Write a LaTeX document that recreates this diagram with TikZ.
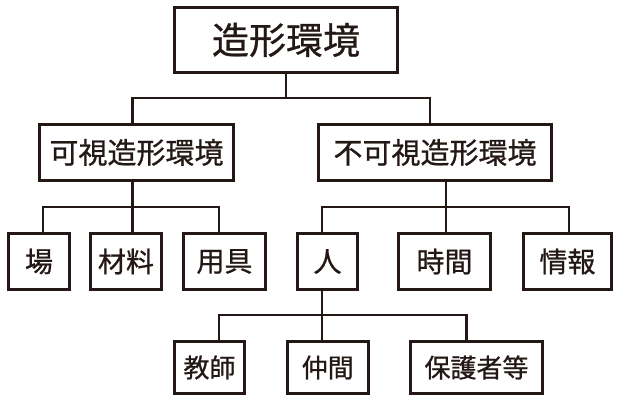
\documentclass[tikz,border=0pt]{standalone}
\usepackage{fontspec}
\newfontfamily\jp[FakeBold=0.8]{Noto Sans CJK JP}
\definecolor{ink}{HTML}{231815}
\begin{document}
\begin{tikzpicture}[x=1pt,y=-1pt,
  box/.style={draw=ink,line width=3pt,inner sep=0pt,text=ink,font=\jp\fontsize{28}{30}\selectfont,minimum height=56pt},
  conn/.style={draw=ink,line width=2.6pt}]
\useasboundingbox (0,0) rectangle (620,397);
% nodes
\node[box,minimum width=223pt,minimum height=65pt,font=\jp\fontsize{37}{40}\selectfont] (top) at (286,40) {造形環境};
\node[box,minimum width=194pt,font=\jp\fontsize{29}{31}\selectfont] (v) at (136.5,152.5) {可視造形環境};
\node[box,minimum width=233pt,font=\jp\fontsize{29}{31}\selectfont] (iv) at (435,152.5) {不可視造形環境};
\node[box,minimum width=61pt] (ba) at (39,261.5) {場};
\node[box,minimum width=71pt] (zai) at (126,261.5) {材料};
\node[box,minimum width=82pt] (yo) at (224.5,261.5) {用具};
\node[box,minimum width=60pt] (hito) at (327.5,261.5) {人};
\node[box,minimum width=92pt] (jikan) at (444.5,261.5) {時間};
\node[box,minimum width=88pt] (joho) at (567.5,261.5) {情報};
\node[box,minimum width=70pt,minimum height=52pt,font=\jp\fontsize{26}{28}\selectfont] (kyoshi) at (209.5,367.5) {教師};
\node[box,minimum width=81pt,minimum height=52pt,font=\jp\fontsize{26}{28}\selectfont] (nakama) at (327.75,367.5) {仲間};
\node[box,minimum width=132pt,minimum height=52pt,font=\jp\fontsize{26}{28}\selectfont] (hogo) at (476.5,367.5) {保護者等};
% bus levels
\coordinate (h1) at (0,98);
\coordinate (h2) at (0,207);
\coordinate (h3) at (0,315);
% attachment points
\coordinate (vN) at ([xshift=-4pt]v.north);
\coordinate (ivN) at ([xshift=-5pt]iv.north);
\coordinate (vS) at ([xshift=-4pt]v.south);
\coordinate (ivS) at ([xshift=11pt]iv.south);
\coordinate (baN) at ([xshift=4pt]ba.north);
\coordinate (zaiN) at ([xshift=6.5pt]zai.north);
\coordinate (yoN) at ([xshift=-5.5pt]yo.north);
\coordinate (hitoN) at ([xshift=-5.5pt]hito.north);
\coordinate (jikanN) at ([xshift=1.5pt]jikan.north);
\coordinate (johoN) at ([xshift=1.5pt]joho.north);
\coordinate (hitoS) at ([xshift=-5.5pt]hito.south);
\coordinate (kyoshiN) at ([xshift=9.5pt]kyoshi.north);
\coordinate (nakamaN) at ([xshift=-5.75pt]nakama.north);
\coordinate (hogoN) at ([xshift=-10pt]hogo.north);
% level 1
\draw[conn] (top.south) -- (top.south |- h1);
\draw[conn] (vN) |- (ivN |- h1) -- (ivN);
% level 2 left
\draw[conn] (vS) -- (vS |- h2);
\draw[conn] (baN) |- (yoN |- h2) -- (yoN);
\draw[conn] (zaiN) -- (zaiN |- h2);
% level 2 right
\draw[conn] (ivS) -- (ivS |- h2);
\draw[conn] (hitoN) |- (johoN |- h2) -- (johoN);
\draw[conn] (jikanN) -- (jikanN |- h2);
% level 3
\draw[conn] (hitoS) -- (hitoS |- h3);
\draw[conn] (kyoshiN) |- (hogoN |- h3) -- (hogoN);
\draw[conn] (nakamaN) -- (nakamaN |- h3);
\end{tikzpicture}
\end{document}
